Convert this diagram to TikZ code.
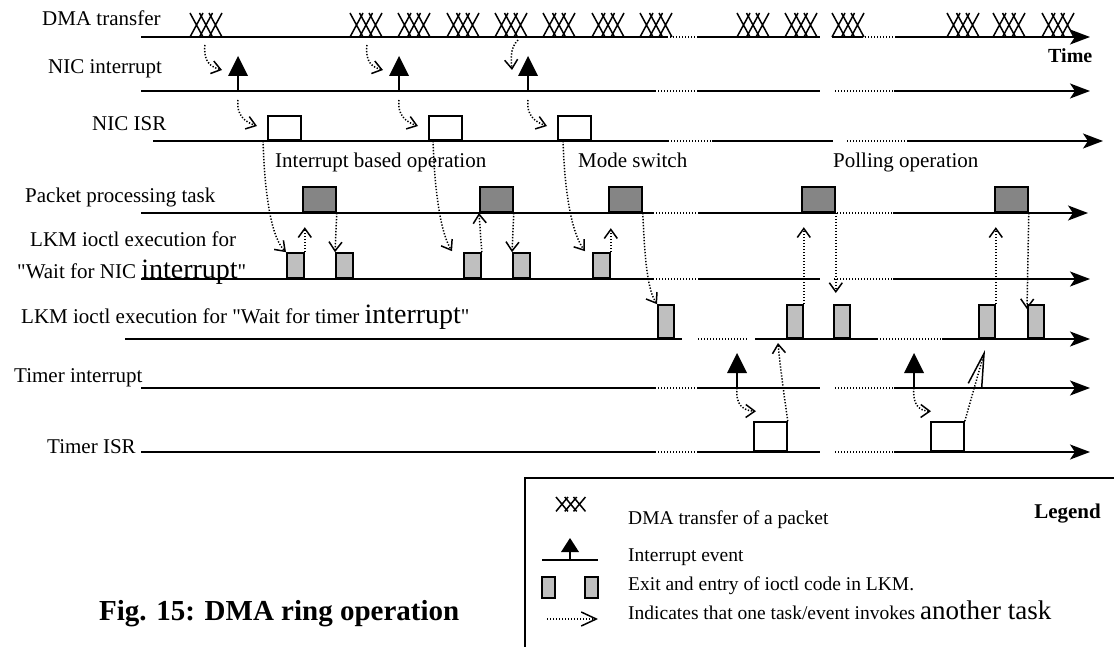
\documentclass[tikz,border=0pt]{standalone}
\usepackage{fontspec}
\setmainfont{Liberation Serif}[Ligatures=TeXOff]
\usetikzlibrary{arrows.meta}

\tikzset{
  tl/.style={line width=2pt},
  gap/.style={line width=1.6pt, dash pattern=on 1.4pt off 1.6pt},
  tlend/.style={line width=2pt, -{Stealth[length=20pt,width=15pt,inset=5pt]}},
  inv/.style={line width=1.5pt, dash pattern=on 1.3pt off 1.7pt,
              -{Straight Barb[length=9pt,width=13pt,line width=1.5pt]}},
  lbl/.style={anchor=base west, inner sep=0pt, font=\fontsize{21}{25}\selectfont},
  leg/.style={anchor=base west, inner sep=0pt, font=\fontsize{19.5}{22}\selectfont},
  isrbox/.style={draw, line width=1.8pt, fill=white, anchor=south west,
                 inner sep=0pt, minimum width=33pt, minimum height=24pt},
  taskbox/.style={draw, line width=1.8pt, fill=black!48, anchor=south west,
                  inner sep=0pt, minimum width=33pt, minimum height=25pt},
  lkmbox/.style={draw, line width=1.8pt, fill=black!25, anchor=south west,
                 inner sep=0pt, minimum width=17pt, minimum height=25pt},
  tmbox/.style={lkmbox, minimum width=16pt, minimum height=33pt},
  irq/.pic={\fill (-10,-15) -- (10,-15) -- (0,-35) -- cycle;
            \draw[line width=2pt] (0,-15) -- (0,0);
            \coordinate (-foot) at (0,0);},
  xfer/.pic={\foreach \k in {0,1,2}{
              \draw[line width=1.5pt] (\k*9.5,0) -- (\k*9.5+13,24)
                                      (\k*9.5+13,0) -- (\k*9.5,24);}},
}
\newcommand{\bigw}[1]{{\fontsize{28}{30}\selectfont #1}}

\begin{document}
\begin{tikzpicture}[x=1pt,y=-1pt]
\useasboundingbox (0,0) rectangle (1114,647);

% ---------------- row labels ----------------
\node[lbl] (lDMA)  at (42,26)  {DMA transfer};
\node[lbl] (lNI)   at (48,74)  {NIC interrupt};
\node[lbl] (lNISR) at (92,131) {NIC ISR};
\node[lbl] (lPK)   at (25,203) {Packet processing task};
\node[lbl] (lLN1)  at (30,247) {LKM ioctl execution for};
\node[lbl] (lLN2)  at (17,278) {"Wait for NIC \bigw{interrupt}"};
\node[lbl] (lLT)   at (21,323) {LKM ioctl execution for "Wait for timer \bigw{interrupt}"};
\node[lbl] (lTI)   at (14,382) {Timer interrupt};
\node[lbl] (lTISR) at (47,453) {Timer ISR};
\node[anchor=base west, inner sep=0pt, font=\bfseries\fontsize{20}{24}\selectfont]
  (lTime) at (1048,63) {Time};

\node[lbl] (phase1) at (275,168) {Interrupt based operation};
\node[lbl] (phase2) at (578,168) {Mode switch};
\node[lbl] (phase3) at (833,168) {Polling operation};

% ---------------- time lines ----------------
% DMA transfer
\draw[tl] (141,37) -- (667,37);
\draw[gap] (667,37) -- (698,37);
\draw[tl] (698,37) -- (820,37) (832,37) -- (862,37);
\draw[gap] (862,37) -- (895,37);
\draw[tlend] (895,37) -- (1090,37);
% NIC interrupt
\draw[tl] (141,91) -- (655,91) (698,91) -- (820,91);
\draw[gap] (655,91) -- (698,91) (835,91) -- (894,91);
\draw[tlend] (894,91) -- (1090,91);
% NIC ISR
\draw[tl] (153,141) -- (668,141) (712,141) -- (833,141);
\draw[gap] (668,141) -- (712,141) (847,141) -- (907,141);
\draw[tlend] (907,141) -- (1103,141);
% packet processing task
\draw[tl] (141,213) -- (653,213) (698,213) -- (834,213);
\draw[gap] (653,213) -- (698,213) (834,213) -- (893,213);
\draw[tlend] (893,213) -- (1088,213);
% LKM, wait for NIC interrupt
\draw[tl] (141,279) -- (653,279) (698,279) -- (820,279);
\draw[gap] (653,279) -- (698,279) (834,279) -- (893,279);
\draw[tlend] (893,279) -- (1090,279);
% LKM, wait for timer interrupt
\draw[tl] (125,339) -- (682,339) (755,339) -- (877,339);
\draw[gap] (698,339) -- (747,339) (877,339) -- (942,339);
\draw[tlend] (942,339) -- (1090,339);
% timer interrupt
\draw[tl] (141,388) -- (655,388) (698,388) -- (820,388);
\draw[gap] (655,388) -- (698,388) (835,388) -- (894,388);
\draw[tlend] (894,388) -- (1090,388);
% timer ISR
\draw[tl] (141,452) -- (655,452) (698,452) -- (820,452);
\draw[gap] (655,452) -- (698,452) (835,452) -- (894,452);
\draw[tlend] (894,452) -- (1090,452);

% ---------------- DMA transfers ----------------
\foreach \x in {190,350,398,447,495,543,592,640,737,785,832,947,993,1042}
  \pic at (\x,13) {xfer};
\coordinate (dma1) at (205,45);
\coordinate (dma2) at (367,45);
\coordinate (dma3) at (518,40);

% ---------------- interrupt events ----------------
\pic (ni1) at (238,91) {irq};
\pic (ni2) at (399,91) {irq};
\pic (ni3) at (528,91) {irq};
\pic (ti1) at (737,388) {irq};
\pic (ti2) at (914,388) {irq};

% ---------------- execution boxes ----------------
\node[isrbox] (nisr1) at (267,141) {};
\node[isrbox] (nisr2) at (428,141) {};
\node[isrbox] (nisr3) at (557,141) {};

\node[taskbox] (pk1) at (302,213) {};
\node[taskbox] (pk2) at (479,213) {};
\node[taskbox] (pk3) at (608,213) {};
\node[taskbox] (pk4) at (801,213) {};
\node[taskbox] (pk5) at (994,213) {};

\node[lkmbox] (ln1) at (286,279) {};
\node[lkmbox] (ln2) at (335,279) {};
\node[lkmbox] (ln3) at (463,279) {};
\node[lkmbox] (ln4) at (512,279) {};
\node[lkmbox] (ln5) at (592,279) {};

\node[tmbox] (lt1) at (657,339) {};
\node[tmbox] (lt2) at (786,339) {};
\node[tmbox] (lt3) at (833,339) {};
\node[tmbox] (lt4) at (978,339) {};
\node[tmbox] (lt5) at (1027,339) {};

\node[isrbox, minimum height=29pt] (tisr1) at (753,452) {};
\node[isrbox, minimum height=29pt] (tisr2) at (930,452) {};

% ---------------- invocations ----------------
\draw[inv] (dma1) .. controls (203,62) and (211,67) .. ([xshift=-16pt,yshift=6pt]ni1-foot |- 0,76);
\draw[inv] (dma2) .. controls (365,62) and (372,67) .. ([xshift=-16pt,yshift=6pt]ni2-foot |- 0,76);
\draw[inv] (dma3) .. controls (510,48) and (511,58) .. ([xshift=-16pt,yshift=6pt]ni3-foot |- 0,76);

\draw[inv] ([yshift=-9pt]ni1-foot) .. controls (236,115) and (245,122) .. ([xshift=-10pt,yshift=15pt]nisr1.south west);
\draw[inv] ([yshift=-9pt]ni2-foot) .. controls (397,115) and (406,122) .. ([xshift=-10pt,yshift=15pt]nisr2.south west);
\draw[inv] ([yshift=-9pt]ni3-foot) .. controls (526,115) and (535,122) .. ([xshift=-10pt,yshift=15pt]nisr3.south west);

\draw[inv] ([xshift=-4pt]nisr1.south west) .. controls (265,200) and (272,238) .. (ln1.north west);
\draw[inv] ([xshift=5pt]nisr2.south west) .. controls (435,200) and (442,235) .. ([xshift=-11pt,yshift=1pt]ln3.north west);
\draw[inv] ([xshift=6pt]nisr3.south west) .. controls (565,200) and (573,235) .. ([xshift=-7pt,yshift=1pt]ln5.north west);

\draw[inv] (ln1.north east) -- ++(0,-25);
\draw[inv] (pk1.south east) -- (ln2.north west);
\draw[inv] (ln3.north east) -- (pk2.south west);
\draw[inv] (pk2.south east) -- (ln4.north west);
\draw[inv] (ln5.north east) -- ++(0,-24);
\draw[inv] (pk3.south east) .. controls (645,265) and (648,290) .. (lt1.north west);

\draw[inv] (ti1-foot) .. controls (735,405) and (744,411) .. ([xshift=3pt,yshift=10pt]tisr1.north west);
\draw[inv] (ti2-foot) .. controls (912,405) and (920,411) .. ([xshift=1pt,yshift=10pt]tisr2.north west);

\draw[inv] (tisr1.north east) .. controls (784,395) and (780,365) .. ([xshift=-8pt,yshift=-4pt]lt2.south west);
\draw[inv] (lt2.north east) -- ++(0,-77);
\draw[inv] (pk4.south east) -- ++(0,80);
\draw[line width=1.5pt, dash pattern=on 1.3pt off 1.7pt,
      -{Straight Barb[length=33pt,width=14pt,line width=1.5pt]}]
  (tisr2.north east) -- (985,350);
\draw[inv] (lt4.north east) -- ++(0,-77);
\draw[inv] (pk5.south east) -- ([yshift=-5pt]lt5.north west);

% ---------------- legend ----------------
\draw[line width=2pt] (525,647) -- (525,478) -- (1114,478);
\node[anchor=base east, inner sep=0pt, font=\bfseries\fontsize{21}{24}\selectfont]
  (lLegend) at (1101,518) {Legend};

\pic[xscale=0.92, yscale=0.6] at (556,497) {xfer};
\node[leg] (t1) at (628,524) {DMA transfer of a packet};

\draw[line width=2pt] (542,560) -- (598,560);
\fill (561,552) -- (579,552) -- (570,538) -- cycle;
\draw[line width=2pt] (570,552) -- (570,560);
\node[leg] (t2) at (628,561) {Interrupt event};

\node[lkmbox, minimum width=13pt, minimum height=21pt] (k1) at (541,599) {};
\node[lkmbox, minimum width=13pt, minimum height=21pt] (k2) at (584,599) {};
\node[leg] (t3) at (628,590) {Exit and entry of ioctl code in LKM.};

\coordinate (a0) at (547,619);
\coordinate (a1) at (598,619);
\draw[line width=1.5pt, dash pattern=on 1.3pt off 1.7pt,
      -{Straight Barb[length=15pt,width=14pt,line width=1.5pt]}] (a0) -- (a1);
\node[leg] (t4) at (628,619) {Indicates that one task/event invokes {\fontsize{27}{28}\selectfont another task}};

% ---------------- caption ----------------
\node[anchor=base west, inner sep=0pt, font=\bfseries\fontsize{29}{32}\selectfont]
  (cap) at (99,620) {Fig. 15: DMA ring operation};
\end{tikzpicture}
\end{document}
